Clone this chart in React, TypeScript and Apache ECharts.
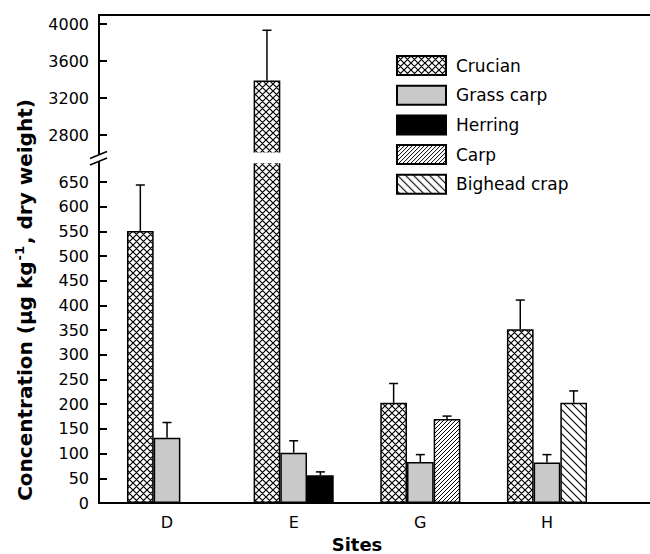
import React, { useEffect, useRef } from 'react';
import * as echarts from 'echarts';

// ---------- data ----------
const categories = ['D', 'E', 'G', 'H'];
const crucian = [551, 3390, 203, 352];
const crucianErr = [93, 545, 39, 59];
const grassCarp = [132, 102, 83, 82];
const grassCarpErr = [31, 24, 15, 16];
const herring = [null, 56, null, null];
const herringErr = [null, 7, null, null];
const carp = [null, null, 170, null];
const carpErr = [null, null, 6, null];
const bighead = [null, null, null, 203];
const bigheadErr = [null, null, null, 24];

const lowerTicks = [0, 50, 100, 150, 200, 250, 300, 350, 400, 450, 500, 550, 600, 650];
const upperTicks = [2800, 3200, 3600, 4000];
const lowerRange = [0, 690];
const upperRange = [2600, 4100];

// ---------- layout ----------
const W = 650;
const H = 554;
const AXIS_X = 99;
const PLOT_L = 103.7;
const PLOT_R = 610.3;
const TOP_Y = 15;
const UPPER_BOTTOM = 153.5;
const LOWER_TOP = 162.3;
const BASE_Y = 503;
const BAR_W = 26.7;
const CAP = 4.5;
const FONT = '"DejaVu Sans", sans-serif';

function makePattern(kind: string, size: number, lw: number) {
  const c = document.createElement('canvas');
  c.width = size;
  c.height = size;
  const ctx = c.getContext('2d')!;
  ctx.fillStyle = '#fff';
  ctx.fillRect(0, 0, size, size);
  ctx.strokeStyle = '#000';
  ctx.lineWidth = lw;
  ctx.beginPath();
  if (kind === 'cross' || kind === 'fwd') {
    ctx.moveTo(-1, size + 1); ctx.lineTo(size + 1, -1);
    ctx.moveTo(-2, 2); ctx.lineTo(2, -2);
    ctx.moveTo(size - 2, size + 2); ctx.lineTo(size + 2, size - 2);
  }
  if (kind === 'cross' || kind === 'back') {
    ctx.moveTo(-1, -1); ctx.lineTo(size + 1, size + 1);
    ctx.moveTo(size - 2, -2); ctx.lineTo(size + 2, 2);
    ctx.moveTo(-2, size - 2); ctx.lineTo(2, size + 2);
  }
  ctx.stroke();
  return { image: c, repeat: 'repeat', imageWidth: size, imageHeight: size } as any;
}

export default function App() {
  const ref = useRef<HTMLDivElement>(null);
  useEffect(() => {
    document.body.style.margin = '0';
    const chart = echarts.init(ref.current!, null, { renderer: 'svg' });

    const styles = {
      crucian: { color: makePattern('cross', 7, 1.2), borderColor: '#000', borderWidth: 1.5 },
      grass: { color: '#c9c9c9', borderColor: '#000', borderWidth: 1.5 },
      herring: { color: '#000', borderColor: '#000', borderWidth: 1.5 },
      carp: { color: makePattern('fwd', 4, 1), borderColor: '#000', borderWidth: 1.5 },
      bighead: { color: makePattern('back', 8, 1.1), borderColor: '#000', borderWidth: 1.5 },
    };

    const seriesDefs = [
      { name: 'Crucian', values: crucian, errs: crucianErr, style: styles.crucian, slot: 0, stack: undefined },
      { name: 'Grass carp', values: grassCarp, errs: grassCarpErr, style: styles.grass, slot: 1, stack: undefined },
      { name: 'Herring', values: herring, errs: herringErr, style: styles.herring, slot: 2, stack: 'third' },
      { name: 'Carp', values: carp, errs: carpErr, style: styles.carp, slot: 2, stack: 'third' },
      { name: 'Bighead crap', values: bighead, errs: bigheadErr, style: styles.bighead, slot: 2, stack: 'third' },
    ];

    const inLower = (v: number | null) => (v == null ? null : v);
    const inUpper = (v: number | null) => (v != null && v > upperRange[0] ? v : null);

    const barSeries = (gridIdx: number, filter: (v: number | null) => number | null) =>
      seriesDefs.map((s) => ({
        type: 'bar',
        name: s.name,
        xAxisIndex: gridIdx,
        yAxisIndex: gridIdx,
        stack: s.stack ? s.stack + gridIdx : undefined,
        data: s.values.map(filter),
        barWidth: BAR_W,
        barGap: '0%',
        itemStyle: s.style,
        clip: true,
        z: 2,
      }));

    const errData = (gridIdx: number) => {
      const out: any[] = [];
      seriesDefs.forEach((s) => {
        s.values.forEach((v, i) => {
          const e = s.errs[i];
          if (v == null || e == null) return;
          if (gridIdx === 0 && v + e > lowerRange[1]) return;
          if (gridIdx === 1 && v <= upperRange[0]) return;
          out.push([i, v, e, s.slot]);
        });
      });
      return out;
    };

    const errSeries = (gridIdx: number) => ({
      type: 'custom',
      xAxisIndex: gridIdx,
      yAxisIndex: gridIdx,
      z: 3,
      clip: true,
      data: errData(gridIdx),
      renderItem: (params: any, api: any) => {
        const cat = api.value(0);
        const v = api.value(1);
        const e = api.value(2);
        const slot = api.value(3);
        const p0 = api.coord([cat, v]);
        const p1 = api.coord([cat, v + e]);
        const x = p0[0] + (slot - 1) * BAR_W;
        const st = { stroke: '#000', lineWidth: 1.5 };
        return {
          type: 'group',
          children: [
            { type: 'line', shape: { x1: x, y1: p0[1], x2: x, y2: p1[1] }, style: st },
            { type: 'line', shape: { x1: x - CAP, y1: p1[1], x2: x + CAP, y2: p1[1] }, style: st },
          ],
        };
      },
    });

    const yAxisCommon = {
      type: 'value',
      position: 'left',
      offset: PLOT_L - AXIS_X,
      splitLine: { show: false },
      axisLine: { show: true, lineStyle: { color: '#000', width: 2 } },
      axisTick: { show: true, inside: true, length: 8, lineStyle: { color: '#000', width: 2 } },
      axisLabel: { color: '#000', fontSize: 16, fontFamily: FONT, margin: 10, formatter: (v: number) => String(v) },
    };

    const option: any = {
      animation: false,
      backgroundColor: '#fff',
      grid: [
        { left: PLOT_L, right: W - PLOT_R, top: LOWER_TOP, bottom: H - BASE_Y },
        { left: PLOT_L, right: W - PLOT_R, top: TOP_Y, bottom: H - UPPER_BOTTOM },
      ],
      xAxis: [
        {
          type: 'category', gridIndex: 0, data: categories,
          axisLine: { show: false }, axisTick: { show: false },
          axisLabel: { color: '#000', fontSize: 16, fontFamily: FONT, margin: 11 },
        },
        { type: 'category', gridIndex: 1, data: categories, show: false },
      ],
      yAxis: [
        {
          ...yAxisCommon, gridIndex: 0, min: lowerRange[0], max: lowerRange[1],
          axisTick: { ...yAxisCommon.axisTick, customValues: lowerTicks },
          axisLabel: { ...yAxisCommon.axisLabel, customValues: lowerTicks },
        },
        {
          ...yAxisCommon, gridIndex: 1, min: upperRange[0], max: upperRange[1],
          axisTick: { ...yAxisCommon.axisTick, customValues: upperTicks },
          axisLabel: { ...yAxisCommon.axisLabel, customValues: upperTicks },
        },
      ],
      legend: {
        orient: 'vertical', left: 396, top: 55, padding: 0, z: 200,
        itemWidth: 49, itemHeight: 19, itemGap: 8.7,
        icon: 'rect', selectedMode: false,
        data: seriesDefs.map((s) => s.name),
        textStyle: { color: '#000', fontSize: 17, fontFamily: FONT, padding: [0, 0, 0, 5], lineHeight: 19 },
      },
      series: [...barSeries(0, inLower), errSeries(0), ...barSeries(1, inUpper), errSeries(1)],
      graphic: [
        { type: 'line', z: 100, shape: { x1: AXIS_X - 1, y1: TOP_Y, x2: W, y2: TOP_Y }, style: { stroke: '#000', lineWidth: 2 } },
        { type: 'line', z: 100, shape: { x1: AXIS_X - 1, y1: BASE_Y, x2: W, y2: BASE_Y }, style: { stroke: '#000', lineWidth: 2 } },
        { type: 'rect', z: 100, shape: { x: AXIS_X + 1.5, y: UPPER_BOTTOM - 1, width: W - AXIS_X, height: LOWER_TOP - UPPER_BOTTOM + 2 }, style: { fill: '#fff' } },
        { type: 'line', z: 101, shape: { x1: 90, y1: 158.5, x2: 107, y2: 151.5 }, style: { stroke: '#000', lineWidth: 1.5 } },
        { type: 'line', z: 101, shape: { x1: 90, y1: 165, x2: 107, y2: 158 }, style: { stroke: '#000', lineWidth: 1.5 } },
        {
          type: 'text', z: 101, x: 25, y: 300, rotation: Math.PI / 2,
          style: {
            text: '{a|Concentration (μg kg}{s|-1}{a|, dry weight)}',
            align: 'center', verticalAlign: 'middle',
            rich: {
              a: { fontSize: 20, fontWeight: 'bold', fontFamily: FONT, fill: '#000', lineHeight: 24 },
              s: { fontSize: 13, fontWeight: 'bold', fontFamily: FONT, fill: '#000', verticalAlign: 'top', lineHeight: 24, padding: [0, 2, 10, 1] },
            },
          },
        },
        {
          type: 'text', z: 101, x: (PLOT_L + PLOT_R) / 2, y: 544,
          style: { text: 'Sites', fontSize: 18, fontWeight: 'bold', fontFamily: FONT, fill: '#000', align: 'center', verticalAlign: 'middle' },
        },
      ],
    };
    chart.setOption(option);
    return () => chart.dispose();
  }, []);
  return <div ref={ref} style={{ position: 'absolute', left: 0, top: 0, width: W, height: H }} />;
}
